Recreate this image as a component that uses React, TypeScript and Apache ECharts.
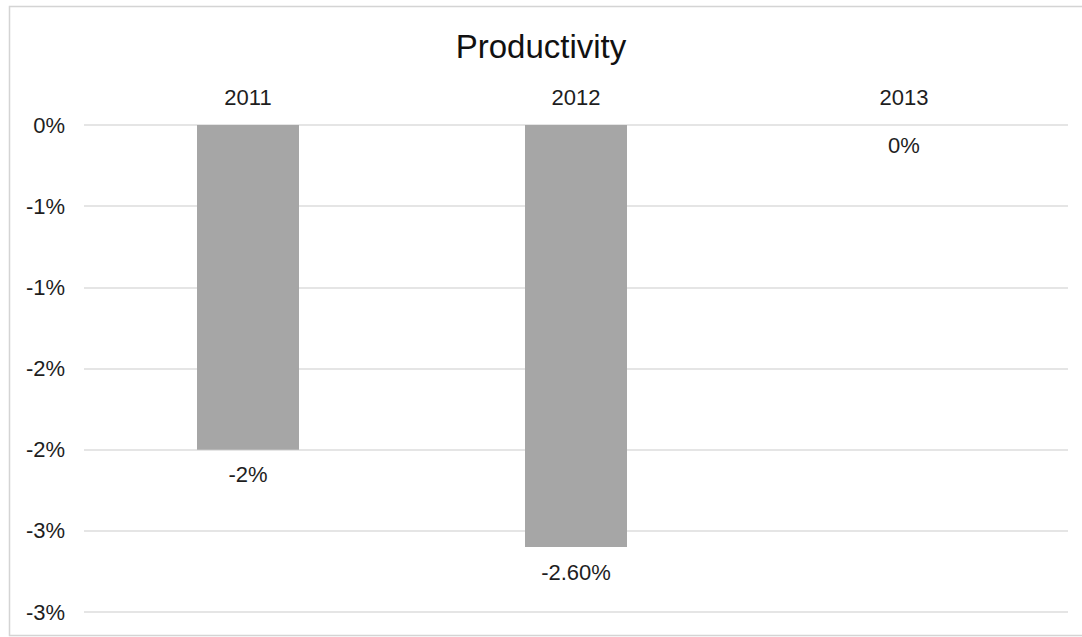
import React, { useEffect, useRef } from "react";
import * as echarts from "echarts";

const categories = ["2011", "2012", "2013"];
const values = [-2, -2.6, 0];
const valueLabels = ["-2%", "-2.60%", "0%"];
const tickValues = [0, -0.5, -1, -1.5, -2, -2.5, -3];
const tickLabels = ["0%", "-1%", "-1%", "-2%", "-2%", "-3%", "-3%"];

const FONT = '"Liberation Sans", Arial, sans-serif';

export default function App() {
  const ref = useRef<HTMLDivElement>(null);
  useEffect(() => {
    if (!ref.current) return;
    const chart = echarts.init(ref.current, null, { renderer: "svg" });
    chart.setOption({
      animation: false,
      backgroundColor: "#ffffff",
      textStyle: { fontFamily: FONT },
      title: {
        text: "Productivity",
        left: "center",
        top: 25,
        textStyle: { fontFamily: FONT, fontSize: 33, fontWeight: "normal", color: "#111111" },
      },
      graphic: [
        {
          type: "rect",
          shape: { x: 9.5, y: 6.5, width: 1100, height: 629 },
          style: { fill: "none", stroke: "#d4d4d4", lineWidth: 1.5 },
          silent: true,
          z: 100,
        },
      ],
      grid: { left: 84, right: 14, top: 125, bottom: 25, containLabel: false },
      xAxis: {
        type: "category",
        position: "top",
        data: categories,
        axisLine: { show: false, onZero: false },
        axisTick: { show: false },
        axisLabel: { fontFamily: FONT, fontSize: 22, color: "#1e1e1e", margin: 17 },
      },
      yAxis: {
        type: "value",
        min: -3,
        max: 0,
        interval: 0.5,
        axisLine: { show: false },
        axisTick: { show: false },
        splitLine: { lineStyle: { color: "#dcdcdc", width: 1.5 } },
        axisLabel: {
          fontFamily: FONT,
          fontSize: 22,
          color: "#1e1e1e",
          margin: 19,
          formatter: (v: number) => {
            const i = tickValues.findIndex((t) => Math.abs(t - v) < 1e-9);
            return i >= 0 ? tickLabels[i] : "";
          },
        },
      },
      series: [
        {
          type: "bar",
          barWidth: 102,
          itemStyle: { color: "#a6a6a6" },
          data: values.map((v, i) => ({
            value: v,
            label: {
              show: true,
              position: "bottom",
              distance: v === 0 ? 9 : 14,
              fontFamily: FONT,
              fontSize: 22,
              color: "#1e1e1e",
              formatter: () => valueLabels[i],
            },
          })),
        },
      ],
    });
    return () => chart.dispose();
  }, []);
  return (
    <div
      ref={ref}
      style={{ position: "absolute", left: 0, top: 0, width: 1082, height: 637 }}
    />
  );
}
